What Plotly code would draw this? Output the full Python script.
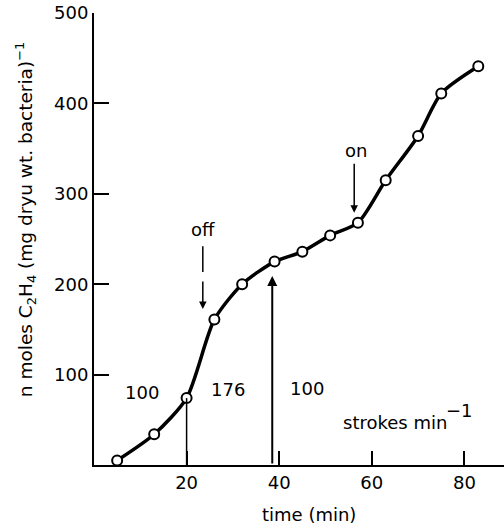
import plotly.graph_objects as go

# data
time_min = [5, 13, 20, 26, 32, 39, 45, 51, 57, 63, 70, 75, 83]
ethylene = [5, 34, 74, 161, 200, 225, 236, 254, 268, 315, 364, 411, 441]

x_ticks = [20, 40, 60, 80]
y_ticks = [100, 200, 300, 400, 500]

rate_labels = ["100", "176", "100"]
rate_label_x = [10.4, 29.0, 46.0]
rate_label_y = [80, 83, 85]

FONT = "DejaVu Sans, Liberation Sans, Arial, sans-serif"
FS = 18

fig = go.Figure()

fig.add_trace(go.Scatter(
    x=time_min, y=ethylene, mode="lines+markers",
    line=dict(color="black", width=3.5, shape="spline", smoothing=0.7),
    marker=dict(symbol="circle", size=10, color="white",
                line=dict(color="black", width=2)),
    cliponaxis=False, showlegend=False, hoverinfo="skip"))

shapes = []
# thin vertical line at 20 min (shaking change 100 -> 176)
shapes.append(dict(type="line", xref="x", yref="y", x0=20, x1=20,
                   y0=0, y1=ethylene[2], line=dict(color="black", width=1.5)))
# dashed part of "off" arrow
shapes.append(dict(type="line", xref="x", yref="y", x0=23.5, x1=23.5,
                   y0=213.5, y1=242, line=dict(color="black", width=1.5)))

annotations = []
# vertical arrow at ~38.5 min pointing up
annotations.append(dict(x=38.5, y=209, ax=38.5, ay=0, xref="x", yref="y",
                        axref="x", ayref="y", showarrow=True, arrowhead=2,
                        arrowsize=1, arrowwidth=2, arrowcolor="black", text=""))
# "off" arrow lower part
annotations.append(dict(x=23.5, y=172.6, ax=23.5, ay=204.6, xref="x", yref="y",
                        axref="x", ayref="y", showarrow=True, arrowhead=2,
                        arrowsize=1, arrowwidth=1.5, arrowcolor="black", text=""))
# "on" arrow
annotations.append(dict(x=56.2, y=279, ax=56.2, ay=335, xref="x", yref="y",
                        axref="x", ayref="y", showarrow=True, arrowhead=2,
                        arrowsize=1, arrowwidth=1.5, arrowcolor="black", text=""))

annotations.append(dict(x=23.5, y=261, xref="x", yref="y", text="off",
                        showarrow=False, font=dict(family=FONT, size=FS, color="black")))
annotations.append(dict(x=56.6, y=348, xref="x", yref="y", text="on",
                        showarrow=False, font=dict(family=FONT, size=FS, color="black")))
for t, xx, yy in zip(rate_labels, rate_label_x, rate_label_y):
    annotations.append(dict(x=xx, y=yy, xref="x", yref="y", text=t,
                            showarrow=False, font=dict(family=FONT, size=FS, color="black")))
annotations.append(dict(x=65.0, y=47.5, xref="x", yref="y",
                        text="strokes min",
                        showarrow=False, font=dict(family=FONT, size=FS, color="black")))
annotations.append(dict(x=79.0, y=60, xref="x", yref="y",
                        text="\u22121",
                        showarrow=False, font=dict(family=FONT, size=FS, color="black")))

# axis titles
annotations.append(dict(x=0.525, y=-0.11, xref="paper", yref="paper",
                        text="time (min)", showarrow=False, yanchor="middle",
                        font=dict(family=FONT, size=FS, color="black")))
annotations.append(dict(x=-0.168, y=271, xref="paper", yref="y",
                        text="n moles C<sub>2</sub>H<sub>4</sub> (mg dryu wt. bacteria)<sup>\u22121</sup>",
                        textangle=-90, showarrow=False, xanchor="center", yanchor="middle",
                        font=dict(family=FONT, size=18.5, color="black")))

fig.update_layout(
    width=504, height=530,
    margin=dict(l=94, r=0, t=13, b=65),
    paper_bgcolor="white", plot_bgcolor="white",
    font=dict(family=FONT, size=FS, color="black"),
    shapes=shapes, annotations=annotations,
    xaxis=dict(range=[0, 88.55], tickvals=x_ticks, ticks="inside", ticklen=14,
               tickwidth=2, tickcolor="black", showline=True, linecolor="black",
               linewidth=2, showgrid=False, zeroline=False,
               tickfont=dict(family=FONT, size=FS, color="black")),
    yaxis=dict(range=[0, 500], tickvals=y_ticks, ticks="inside", ticklen=15,
               tickwidth=2, tickcolor="black", showline=True, linecolor="black",
               linewidth=2, showgrid=False, zeroline=False,
               tickfont=dict(family=FONT, size=FS, color="black")),
)

fig.write_html("out.html", config={"displayModeBar": False},
               post_script="document.body.style.margin='0';document.body.style.overflow='hidden';")
